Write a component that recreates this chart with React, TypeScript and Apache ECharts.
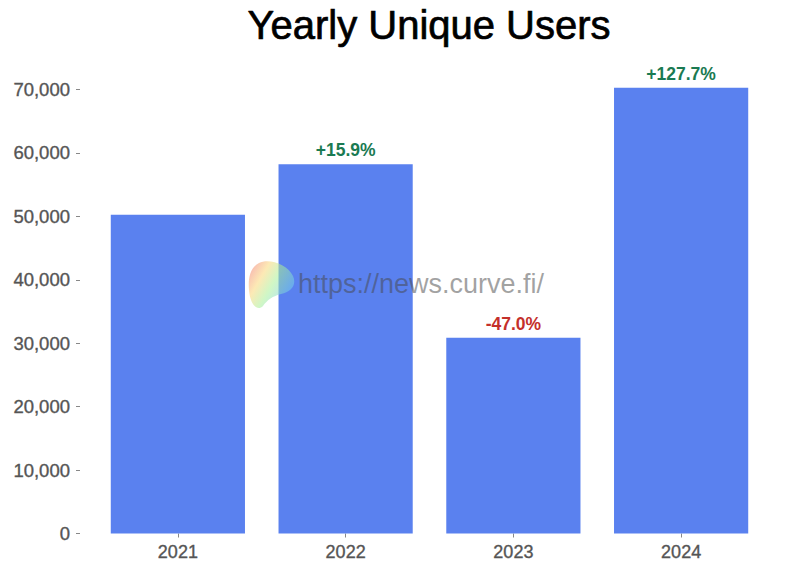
import React, { useEffect, useRef } from "react";
import * as echarts from "echarts";

const years = ["2021", "2022", "2023", "2024"];
const users = [50240, 58230, 30860, 70270];
const changeLabels = ["", "+15.9%", "-47.0%", "+127.7%"];
const changeColors = ["#1a7a52", "#1a7a52", "#c4302b", "#1a7a52"];
const yTicks = [0, 10000, 20000, 30000, 40000, 50000, 60000, 70000];

const FONT = "'Liberation Sans', Arial, Helvetica, sans-serif";

const LOGO_D =
  "M12 3 C22 -2 40 4 46 16 C50 25 44 32 34 34 C26 36 20 40 16 46 C10 52 3 44 2 30 C1 18 3 8 12 3 Z";
echarts.graphic.registerShape("logo", echarts.graphic.extendPath(LOGO_D, {}));

export default function App() {
  const ref = useRef<HTMLDivElement>(null);
  useEffect(() => {
    document.body.style.margin = "0";
    if (!ref.current) return;
    const chart = echarts.init(ref.current, undefined, { renderer: "svg" });
    const axisText = {
      fontSize: 18,
      color: "#555",
      fontFamily: FONT,
      textBorderColor: "#555",
      textBorderWidth: 0.35,
    };
    chart.setOption({
      animation: false,
      backgroundColor: "#ffffff",
      graphic: [
        {
          type: "text",
          x: 429,
          y: 25,
          style: {
            text: "Yearly Unique Users",
            fontSize: 40,
            fontFamily: FONT,
            fill: "#000",
            stroke: "#000",
            lineWidth: 0.7,
            align: "center",
            verticalAlign: "middle",
          },
          z: 10,
        },
        {
          type: "logo",
          x: 247,
          y: 260,
          scaleX: 1,
          scaleY: 1,
          style: {
            fill: new echarts.graphic.LinearGradient(0, 0, 1, 0.6, [
              { offset: 0, color: "rgba(240,100,110,0.55)" },
              { offset: 0.35, color: "rgba(250,215,120,0.55)" },
              { offset: 0.6, color: "rgba(170,240,150,0.55)" },
              { offset: 1, color: "rgba(110,200,250,0.55)" },
            ]),
          },
          z: 10,
        },
        {
          type: "text",
          x: 298,
          y: 284,
          style: {
            text: "https://news.curve.fi/",
            fontSize: 27,
            fontFamily: FONT,
            fill: "rgba(70,70,70,0.5)",
            align: "left",
            verticalAlign: "middle",
          },
          z: 10,
        },
      ],
      grid: { left: 94, right: 25, top: 89.5, bottom: 36.5 },
      xAxis: {
        type: "category",
        data: years,
        axisLine: { show: false },
        axisTick: { show: true, alignWithLabel: true, length: 4, lineStyle: { color: "#888" } },
        axisLabel: { ...axisText, margin: 9 },
        splitLine: { show: false },
      },
      yAxis: {
        type: "value",
        min: 0,
        max: 70000,
        interval: 10000,
        offset: 14,
        axisLine: { show: false },
        axisTick: { show: true, length: 4, lineStyle: { color: "#888" } },
        axisLabel: {
          ...axisText,
          fontSize: 18.5,
          margin: 10,
          formatter: (v: number) => (yTicks.includes(v) ? v.toLocaleString("en-US") : ""),
        },
        splitLine: { show: false },
      },
      series: [
        {
          type: "bar",
          data: users.map((v, i) => ({
            value: v,
            label: {
              show: changeLabels[i] !== "",
              formatter: changeLabels[i],
              color: changeColors[i],
            },
          })),
          barCategoryGap: "20%",
          clip: false,
          itemStyle: { color: "#5a81ef" },
          label: {
            show: true,
            position: "top",
            distance: 5,
            fontSize: 17.5,
            fontWeight: "bold",
            fontFamily: FONT,
          },
        },
      ],
    });
    return () => chart.dispose();
  }, []);
  return <div ref={ref} style={{ width: 790, height: 570 }} />;
}
